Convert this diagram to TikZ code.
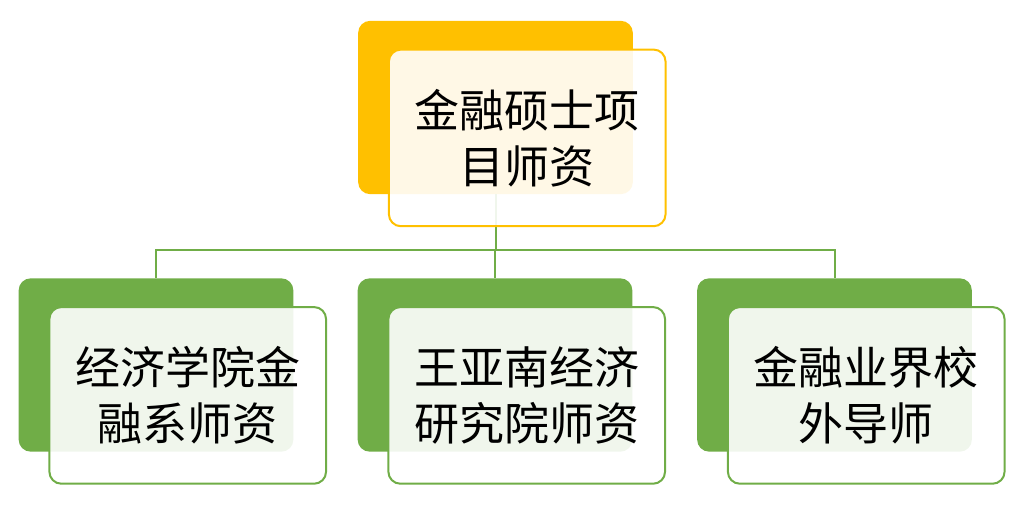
\documentclass[tikz,border=0pt]{standalone}
\usepackage{fontspec}
\usepackage{xcolor}
\usetikzlibrary{positioning}
\newfontfamily\cjk{Noto Sans CJK SC}
\definecolor{gold}{RGB}{255,192,0}
\definecolor{leaf}{RGB}{112,173,71}

\begin{document}
\begin{tikzpicture}[
  x=0.75pt,y=-0.75pt,
  back/.style={rectangle,rounded corners=9pt,minimum width=206pt,minimum height=130pt,
               inner sep=0pt,fill=#1},
  front/.style={rectangle,rounded corners=9pt,minimum width=207.5pt,minimum height=132.5pt,
                inner sep=0pt,draw=#1,line width=1.5pt,fill=white,fill opacity=0.9,
                text opacity=1,align=center,font=\cjk\fontsize{33.75pt}{42pt}\selectfont},
  link/.style={draw=leaf,line width=1.5pt}
]
\useasboundingbox (0,0) rectangle (1021,513);
% back boxes
\node[back=gold] (topb) at (495.5,107.5) {};
\node[back=leaf] (leftb) at (156,365) {};
\node[back=leaf] (midb) at (495,365) {};
\node[back=leaf] (rightb) at (834.5,365) {};
% connectors
\foreach \c in {leftb,midb,rightb}
  \draw[link] (\c.north) -- ++(0,-28) -| (topb.south);
% front boxes
\node[front=gold,anchor=north west] (top) at ([shift={(30,28)}]topb.north west) {金融硕士项\\目师资};
\node[front=leaf,anchor=north west] (left) at ([shift={(30,28)}]leftb.north west) {经济学院金\\融系师资};
\node[front=leaf,anchor=north west] (mid) at ([shift={(30,28)}]midb.north west) {王亚南经济\\研究院师资};
\node[front=leaf,anchor=north west] (right) at ([shift={(30,28)}]rightb.north west) {金融业界校\\外导师};
\end{tikzpicture}
\end{document}
